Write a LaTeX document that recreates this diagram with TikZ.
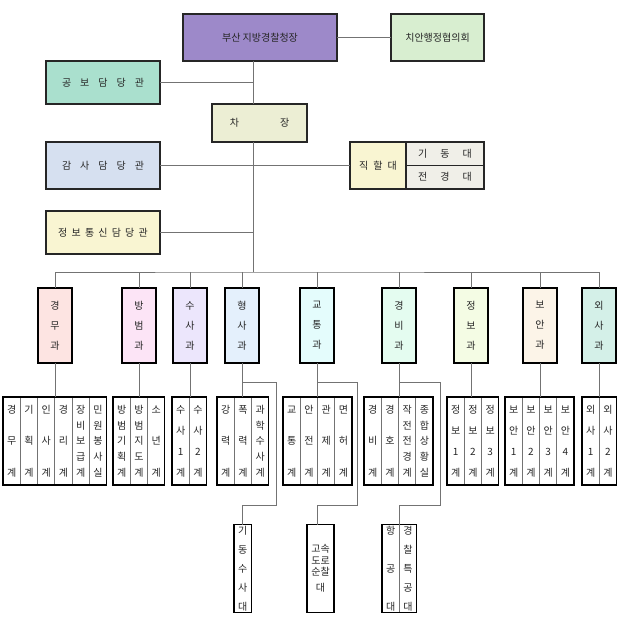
\documentclass[tikz,border=0pt]{standalone}
\usepackage{fontspec}
\setmainfont{Noto Sans CJK KR}
\usetikzlibrary{positioning,calc}

\definecolor{chiefc}{RGB}{157,137,201}
\definecolor{councilc}{RGB}{216,238,208}
\definecolor{prc}{RGB}{170,224,206}
\definecolor{vicec}{RGB}{236,238,212}
\definecolor{auditc}{RGB}{214,224,240}
\definecolor{creamc}{RGB}{249,245,210}
\definecolor{unitc}{RGB}{240,239,232}
\definecolor{gyeongmuc}{RGB}{253,228,226}
\definecolor{bangbeomc}{RGB}{252,228,246}
\definecolor{susac}{RGB}{236,230,252}
\definecolor{hyeongsac}{RGB}{228,240,252}
\definecolor{gyotongc}{RGB}{228,252,252}
\definecolor{gyeongbic}{RGB}{228,252,240}
\definecolor{jeongboc}{RGB}{244,252,228}
\definecolor{boanc}{RGB}{252,244,232}
\definecolor{oesac}{RGB}{212,240,232}

% column width of the team boxes
\def\colw{17.25}
\newcommand\stkitem[1]{\hbox to \colw pt{\hss\vphantom{가}#1\hss}}
\def\stkrun#1{\ifx#1\relax\else\vfill\stkitem{#1}\expandafter\stkrun\fi}
\def\stkfirst#1{\stkitem{#1}\stkrun}
\newcommand\stk[2]{\parbox[c][#1][s]{\colw pt}{\offinterlineskip\expandafter\stkfirst#2\relax}}

% name, left x, centre y, text height, list of columns
\newcommand\teams[5]{%
  \foreach \col [count=\k] in {#5}{%
    \node[teambox] (#1-\k) at ({#2+(\k-0.5)*\colw}, #3) {\stk{#4}{\col}};
    \xdef\lastcol{\k}}
  \draw[grpframe] (#1-1.north west) rectangle (#1-\lastcol.south east);}

\begin{document}
\begin{tikzpicture}[x=1pt,y=-1pt]%
        \tikzstyle{topbox}=[draw=black!85, line width=1.3pt, inner sep=0pt, outer sep=0pt, text=black!85, font=\fontsize{10}{12}\selectfont];%
        \tikzstyle{deptbox}=[draw=black, line width=1.2pt, minimum width=34pt, minimum height=75pt, inner sep=0pt, outer sep=0pt, align=center, text=black!85, font=\fontsize{10}{20}\selectfont];%
        \tikzstyle{teambox}=[draw=black!55, line width=0.7pt, minimum width=\colw pt, minimum height=88pt, inner sep=0pt, outer sep=0pt, text=black!85, font=\fontsize{10}{12}\selectfont];%
        \tikzstyle{grpframe}=[draw=black, line width=1.3pt];%
        \tikzstyle{wire}=[draw=black!55, line width=1pt];%
        \tikzset{spaced/.style={font={\fontsize{10}{12}\selectfont\spaceskip=#1\relax}}}%
        \useasboundingbox (0,0) rectangle (620,616);

        % head office
        \node[topbox, fill=chiefc, minimum width=154pt, minimum height=47pt] (chief) at (260, 37.5) {부산 지방경찰청장};
        \node[topbox, fill=councilc, minimum width=93pt, minimum height=47pt] (council) at (437.5, 37.5) {치안행정협의회};
        \node[topbox, fill=prc, minimum width=114pt, minimum height=43pt, spaced=9pt] (pr) at (103, 82.5) {공 보 담 당 관};
        \node[topbox, fill=vicec, minimum width=95pt, minimum height=38pt, spaced=41pt] (vice) at (259.5, 123) {차 장};
        \node[topbox, fill=auditc, minimum width=114pt, minimum height=47pt, spaced=9pt] (audit) at (103, 165.5) {감 사 담 당 관};
        \node[topbox, fill=creamc, minimum width=114pt, minimum height=43pt, spaced=4.2pt] (infocomm) at (103, 232.5) {정 보 통 신 담 당 관};

        \node[topbox, fill=creamc, minimum width=56pt, minimum height=47pt, spaced=5pt] (direct) at (378, 165.5) {직 할 대};
        \node[topbox, fill=unitc, minimum width=78pt, minimum height=23.5pt, spaced=13pt] (kidong) at (445, 153.75) {기 동 대};
        \node[topbox, fill=unitc, minimum width=78pt, minimum height=23.5pt, spaced=13pt] (jeongyeong) at (445, 177.25) {전 경 대};

        \coordinate (bus) at (253, 272);
        \draw[wire] (chief.east) -- (council.west);
        \draw[wire] (chief.south -| bus) -- (vice.north -| bus);
        \draw[wire] (vice.south -| bus) -- (bus);
        \draw[wire] (pr.east) -- (pr.east -| bus);
        \draw[wire] (audit.east) -- (direct.west);
        \draw[wire] (infocomm.east) -- (infocomm.east -| bus);

        % departments
        \node[deptbox, fill=gyeongmuc] (gyeongmu) at (55, 325.5) {경\\무\\과};
        \node[deptbox, fill=bangbeomc] (bangbeom) at (139, 325.5) {방\\범\\과};
        \node[deptbox, fill=susac] (susa) at (190, 325.5) {수\\사\\과};
        \node[deptbox, fill=hyeongsac] (hyeongsa) at (242, 325.5) {형\\사\\과};
        \node[deptbox, fill=gyotongc] (gyotong) at (317, 325.5) {교\\통\\과};
        \node[deptbox, fill=gyeongbic] (gyeongbi) at (399, 325.5) {경\\비\\과};
        \node[deptbox, fill=jeongboc] (jeongbo) at (471, 325.5) {정\\보\\과};
        \node[deptbox, fill=boanc] (boan) at (540, 325.5) {보\\안\\과};
        \node[deptbox, fill=oesac] (oesa) at (599, 325.5) {외\\사\\과};

        \draw[wire] (gyeongmu.north) |- (bus) -| (oesa.north);
        \foreach \d in {bangbeom,susa,hyeongsa,gyotong,gyeongbi,jeongbo,boan}
            \draw[wire] (\d.north) -- (\d.north |- bus);

        % teams
        \teams{gyeongmu}{3}{441}{71pt}{경무계,기획계,인사계,경리계,장비보급계,민원봉사실}
        \teams{bangbeom}{113}{441}{71pt}{방범기획계,방범지도계,소년계}
        \teams{susa}{172}{441}{71pt}{수사1계,수사2계}
        \teams{hyeongsa}{217}{441}{71pt}{강력계,폭력계,과학수사계}
        \teams{gyotong}{283}{441}{71pt}{교통계,안전계,관제계,면허계}
        \teams{gyeongbi}{364}{441}{71pt}{경비계,경호계,작전전경계,종합상황실}
        \teams{jeongbo}{447}{441}{71pt}{정보1계,정보2계,정보3계}
        \teams{boan}{505}{441}{71pt}{보안1계,보안2계,보안3계,보안4계}
        \teams{oesa}{582}{441}{71pt}{외사1계,외사2계}

        \foreach \d in {gyeongmu,bangbeom,susa,hyeongsa,gyotong,gyeongbi,jeongbo,boan,oesa}
            \draw[wire] (\d.south) -- (\d.south |- \d-1.north);

        % attached units
        \teams{mobile}{234}{568.5}{84pt}{기동수사대}
        \node[teambox, draw=black, line width=1.3pt, minimum width=27pt, align=center, font=\fontsize{10}{11.5}\selectfont] (highway) at (320.5, 568.5) {고속\\도로\\순찰\\[4pt]대};
        \teams{air}{382}{568.5}{84pt}{항공대,경찰특공대}

        \coordinate (hyeongsa-a) at (276, 382);
        \coordinate (hyeongsa-b) at (276, 505);
        \coordinate (gyotong-a) at (357, 382);
        \coordinate (gyotong-b) at (357, 505);
        \coordinate (gyeongbi-a) at (440, 382);
        \coordinate (gyeongbi-b) at (440, 505);
        \draw[wire] (hyeongsa.south |- hyeongsa-a) -- (hyeongsa-a) -- (hyeongsa-b) -- (mobile-1.north |- hyeongsa-b) -- (mobile-1.north);
        \draw[wire] (gyotong.south |- gyotong-a) -- (gyotong-a) -- (gyotong-b) -- (gyotong.south |- gyotong-b) -- (gyotong.south |- highway.north);
        \draw[wire] (gyeongbi.south |- gyeongbi-a) -- (gyeongbi-a) -- (gyeongbi-b) -- (gyeongbi.south |- gyeongbi-b) -- (gyeongbi.south |- air-1.north);
    \end{tikzpicture}
\end{document}
